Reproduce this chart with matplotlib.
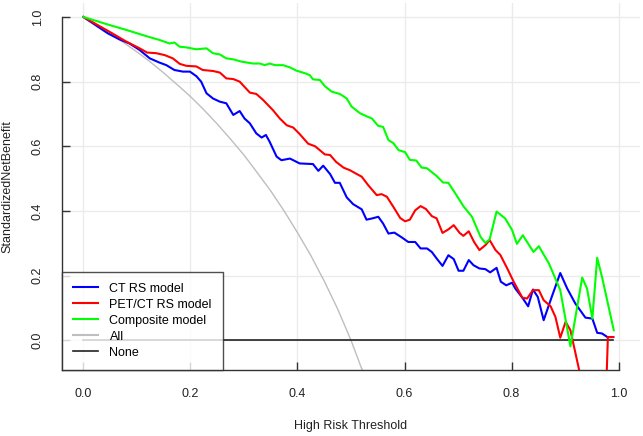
import matplotlib
matplotlib.use("Agg")
import matplotlib.pyplot as plt
from matplotlib.lines import Line2D

plt.rcParams['font.family'] = ['Liberation Sans', 'DejaVu Sans']

# ---------------- data ----------------
ct_x = [0, 0.046, 0.067, 0.086, 0.105, 0.124, 0.142, 0.155, 0.170, 0.186, 0.199, 0.211, 0.220,
        0.230, 0.242, 0.255, 0.267, 0.280, 0.292, 0.301, 0.311, 0.323, 0.333, 0.341, 0.348, 0.361,
        0.370, 0.386, 0.404, 0.429, 0.439, 0.448, 0.461, 0.470, 0.479, 0.492, 0.504, 0.520, 0.529,
        0.540, 0.551, 0.560, 0.570, 0.581, 0.595, 0.607, 0.620, 0.630, 0.642, 0.651, 0.660, 0.671,
        0.682, 0.692, 0.701, 0.710, 0.720, 0.729, 0.740, 0.751, 0.760, 0.772, 0.780, 0.790, 0.801,
        0.807, 0.820, 0.831, 0.840, 0.849, 0.860, 0.874, 0.891, 0.904, 0.919, 0.938, 0.951, 0.960,
        0.969, 0.979, 0.990]
ct_y = [1.0, 0.949, 0.931, 0.918, 0.898, 0.872, 0.859, 0.851, 0.836, 0.831, 0.831, 0.817, 0.800,
        0.764, 0.748, 0.738, 0.733, 0.697, 0.709, 0.686, 0.671, 0.640, 0.627, 0.635, 0.614, 0.568,
        0.557, 0.562, 0.547, 0.545, 0.524, 0.540, 0.514, 0.487, 0.487, 0.442, 0.421, 0.405, 0.373,
        0.377, 0.382, 0.361, 0.330, 0.333, 0.318, 0.304, 0.304, 0.284, 0.284, 0.273, 0.253, 0.230,
        0.263, 0.251, 0.215, 0.215, 0.248, 0.232, 0.222, 0.220, 0.210, 0.224, 0.181, 0.170, 0.178,
        0.160, 0.132, 0.105, 0.157, 0.134, 0.062, 0.129, 0.208, 0.160, 0.114, 0.070, 0.067, 0.023,
        0.021, 0.010, 0.010]

pet_x = [0, 0.049, 0.080, 0.105, 0.119, 0.136, 0.152, 0.167, 0.180, 0.192, 0.211, 0.223, 0.242,
         0.255, 0.267, 0.280, 0.292, 0.311, 0.323, 0.336, 0.354, 0.367, 0.380, 0.392, 0.404, 0.420,
         0.433, 0.451, 0.461, 0.472, 0.486, 0.498, 0.511, 0.520, 0.532, 0.548, 0.557, 0.567, 0.579,
         0.592, 0.601, 0.610, 0.620, 0.630, 0.640, 0.651, 0.660, 0.671, 0.682, 0.692, 0.703, 0.710,
         0.720, 0.730, 0.740, 0.751, 0.759, 0.770, 0.779, 0.792, 0.804, 0.820, 0.829, 0.840, 0.851,
         0.860, 0.873, 0.882, 0.891, 0.901, 0.910, 0.930, 0.970, 0.980, 0.990]
pet_y = [1.0, 0.954, 0.924, 0.903, 0.890, 0.888, 0.882, 0.872, 0.855, 0.849, 0.847, 0.836, 0.833,
         0.828, 0.810, 0.808, 0.800, 0.766, 0.762, 0.743, 0.712, 0.686, 0.665, 0.658, 0.638, 0.608,
         0.600, 0.575, 0.573, 0.552, 0.534, 0.526, 0.514, 0.506, 0.480, 0.449, 0.452, 0.444, 0.413,
         0.378, 0.368, 0.373, 0.402, 0.415, 0.406, 0.384, 0.377, 0.332, 0.343, 0.356, 0.332, 0.323,
         0.337, 0.304, 0.279, 0.294, 0.310, 0.279, 0.264, 0.222, 0.181, 0.132, 0.129, 0.155, 0.155,
         0.124, 0.105, 0.072, 0.008, 0.057, 0.031, -0.12, -0.5, 0.010, 0.010]

comp_x = [0, 0.049, 0.080, 0.117, 0.142, 0.161, 0.170, 0.180, 0.192, 0.211, 0.230, 0.242, 0.255,
          0.267, 0.280, 0.295, 0.317, 0.330, 0.339, 0.348, 0.358, 0.373, 0.386, 0.398, 0.414, 0.423,
          0.429, 0.442, 0.451, 0.464, 0.479, 0.492, 0.501, 0.517, 0.529, 0.539, 0.551, 0.560, 0.570,
          0.579, 0.589, 0.601, 0.610, 0.622, 0.632, 0.642, 0.660, 0.672, 0.682, 0.695, 0.710, 0.726,
          0.742, 0.751, 0.759, 0.772, 0.788, 0.801, 0.810, 0.821, 0.841, 0.851, 0.870, 0.891, 0.910,
          0.932, 0.941, 0.951, 0.960, 0.969, 0.991]
comp_y = [1.0, 0.975, 0.960, 0.941, 0.929, 0.918, 0.921, 0.908, 0.906, 0.900, 0.903, 0.888, 0.884,
          0.872, 0.869, 0.862, 0.856, 0.856, 0.851, 0.856, 0.851, 0.851, 0.844, 0.834, 0.826, 0.820,
          0.807, 0.805, 0.786, 0.769, 0.762, 0.748, 0.723, 0.702, 0.693, 0.686, 0.663, 0.660, 0.619,
          0.610, 0.588, 0.582, 0.558, 0.556, 0.534, 0.532, 0.508, 0.488, 0.487, 0.454, 0.415, 0.382,
          0.320, 0.301, 0.312, 0.398, 0.377, 0.341, 0.298, 0.325, 0.273, 0.291, 0.237, 0.155, -0.019,
          0.194, 0.160, 0.067, 0.255, 0.196, 0.031]

all_x = [0, 0.025, 0.05, 0.075, 0.1, 0.125, 0.15, 0.175, 0.2, 0.225, 0.25, 0.275, 0.3, 0.325,
         0.35, 0.375, 0.4, 0.425, 0.45, 0.475, 0.5, 0.525]
all_y = [1.0, 0.975, 0.949, 0.921, 0.892, 0.861, 0.827, 0.791, 0.754, 0.713, 0.669, 0.622, 0.573,
         0.518, 0.462, 0.400, 0.333, 0.262, 0.183, 0.097, 0.0, -0.11]

none_x = [0, 0.99]
none_y = [0, 0]

xticks = [0.0, 0.2, 0.4, 0.6, 0.8, 1.0]
yticks = [0.0, 0.2, 0.4, 0.6, 0.8, 1.0]
labels = ["CT RS model", "PET/CT RS model", "Composite model", "All", "None"]
colors = ["#0000FF", "#FF0000", "#00FF00", "#BEBEBE", "#222222"]

# ---------------- figure ----------------
fig = plt.figure(figsize=(6.43, 4.36), dpi=100)
ax = fig.add_axes([62/643, 1 - 370/436, (640 - 62)/643, (370 - 3.4)/436])
ax.set_xlim(-0.04, 1.04)
ax.set_ylim(-0.092, 1.042)

for t in xticks:
    ax.axvline(t, color="#EBEBEB", lw=1.0, zorder=0)
for t in yticks:
    ax.axhline(t, color="#EBEBEB", lw=1.0, zorder=0)

ax.plot(all_x, all_y, color=colors[3], lw=1.0, zorder=2)
ax.plot(none_x, none_y, color=colors[4], lw=1.2, zorder=2)
ax.plot(ct_x, ct_y, color=colors[0], lw=1.5, zorder=3)
ax.plot(pet_x, pet_y, color=colors[1], lw=1.5, zorder=3)
ax.plot(comp_x, comp_y, color=colors[2], lw=1.5, zorder=3)

for s in ["top", "right"]:
    ax.spines[s].set_visible(False)
ax.spines["left"].set_bounds(-0.092, 1.0)
ax.spines["bottom"].set_bounds(-0.04, 1.0)
for s in ["left", "bottom"]:
    ax.spines[s].set_color("#333333")
    ax.spines[s].set_linewidth(1.0)

ax.set_xticks(xticks)
ax.set_yticks(yticks)
ax.set_xticklabels([f"{t:.1f}" for t in xticks])
ax.set_yticklabels([f"{t:.1f}" for t in yticks], rotation=90, va="center")
ax.tick_params(axis="both", direction="in", length=6, width=1.0, color="#333333",
               labelsize=9, labelcolor="#222222", pad=13)

ax.set_xlabel("High Risk Threshold", fontsize=9, color="#222222", labelpad=14)
ax.set_ylabel("StandardizedNetBenefit", fontsize=9, color="#222222", labelpad=13)

handles = [Line2D([0], [0], color=c, lw=1.5) for c in colors]
handles[4].set_linewidth(1.2)
leg = ax.legend(handles, labels, loc="lower left", bbox_to_anchor=(0, 0), borderaxespad=0,
                fontsize=9, frameon=True, fancybox=False, edgecolor="#222222",
                handlelength=2.0, handletextpad=0.9, labelspacing=0.32, borderpad=0.9)
leg.get_frame().set_linewidth(1.0)
leg.set_zorder(5)

fig.savefig("out.png", dpi=100)
